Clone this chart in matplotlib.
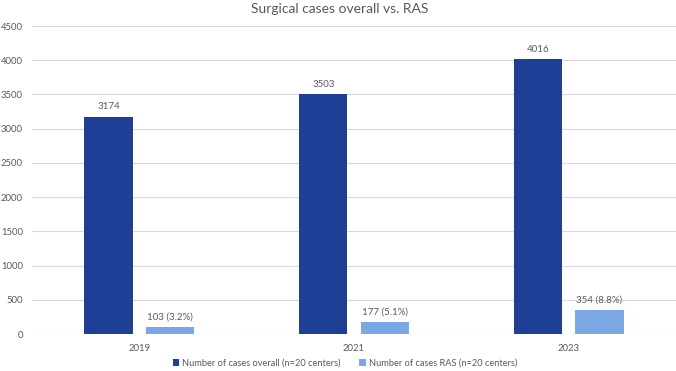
import matplotlib
matplotlib.use("Agg")
import matplotlib.pyplot as plt
import numpy as np

plt.rcParams['font.family'] = ['Lato', 'DejaVu Sans']

years = ["2019", "2021", "2023"]
overall = [3174, 3503, 4016]
ras = [103, 177, 354]
ras_labels = ["103 (3.2%)", "177 (5.1%)", "354 (8.8%)"]
overall_name = "Number of cases overall (n=20 centers)"
ras_name = "Number of cases RAS (n=20 centers)"
title = "Surgical cases overall vs. RAS"
yticks = [0, 500, 1000, 1500, 2000, 2500, 3000, 3500, 4000, 4500]

dark = "#1F3F97"
light = "#7BA7E2"
grey = "#595959"

W, H = 676, 371
fig = plt.figure(figsize=(W / 100, H / 100), dpi=100)
ax = fig.add_axes([32 / W, (H - 334) / H, (676 - 32) / W, (334 - 26) / H])

x = np.arange(len(years))
bw = 0.225
off = 0.143
b1 = ax.bar(x - off, overall, bw, color=dark, label=overall_name, zorder=3)
b2 = ax.bar(x + off, ras, bw, color=light, label=ras_name, zorder=3)

ax.bar_label(b1, labels=[str(v) for v in overall], padding=4, fontsize=7, color=grey)
ax.bar_label(b2, labels=ras_labels, padding=4, fontsize=7, color=grey)

ax.set_xlim(-0.5, len(years) - 0.5)
ax.set_ylim(0, 4500)
ax.set_yticks(yticks)
ax.set_xticks(x)
ax.set_xticklabels(years)
ax.tick_params(axis='both', length=0, labelsize=6.8, colors=grey)
ax.tick_params(axis='y', pad=6.5)
ax.tick_params(axis='x', pad=7)
ax.grid(axis='y', color="#D9D9D9", linewidth=0.8, zorder=0)
for s in ax.spines.values():
    s.set_visible(False)

fig.text(340 / W, 1 - 9 / H, title, ha='center', va='center', fontsize=10, color=grey)

fig.legend(handles=[b1, b2], loc='center', bbox_to_anchor=(345 / W, 1 - 363 / H),
           ncol=2, frameon=False, fontsize=6.7, labelcolor=grey,
           handlelength=0.7, handleheight=0.7, handletextpad=0.3, columnspacing=2.0)

fig.savefig("out.png", dpi=100)
